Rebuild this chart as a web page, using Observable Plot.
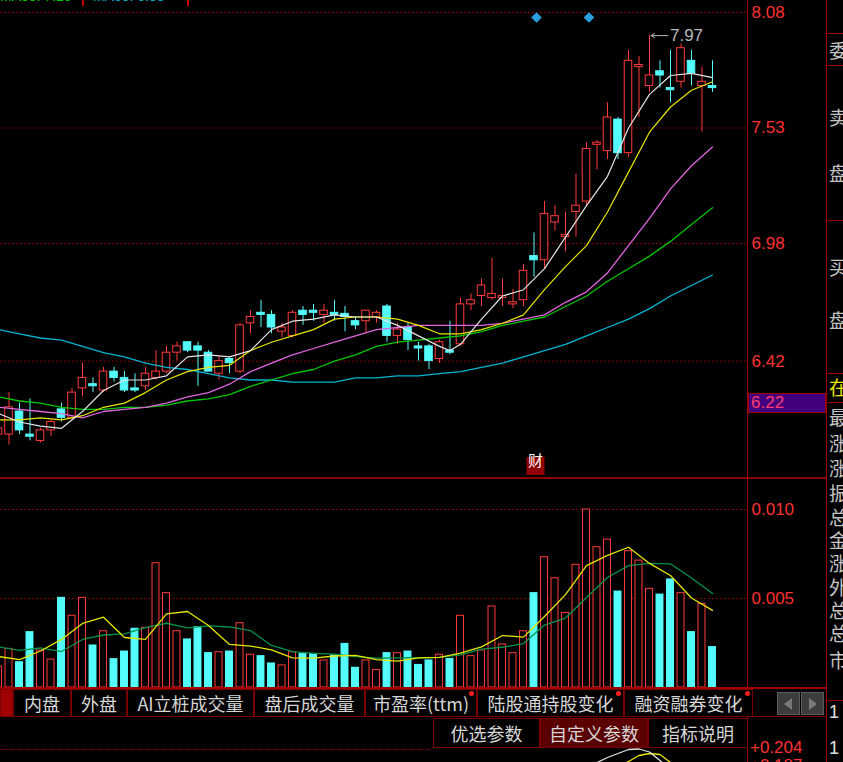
<!DOCTYPE html>
<html><head><meta charset="utf-8">
<script src="https://cdn.jsdelivr.net/npm/d3@7"></script>
<script src="https://cdn.jsdelivr.net/npm/@observablehq/plot@0.6"></script>
<style>
html,body{margin:0;padding:0;background:#000;}
#wrap{position:relative;width:843px;height:762px;background:#000;overflow:hidden;}
#wrap > *{position:absolute;}
.cjk{font-family:"Noto Sans CJK SC",sans-serif;}
.box{box-sizing:border-box;border:1px solid #7a0000;color:#d6d6d6;font-size:18px;display:flex;align-items:center;justify-content:center;white-space:nowrap;}
</style></head><body><div id="wrap"></div>
<script>
// ---------------- data ----------------
const priceTicks = [8.08, 7.53, 6.98, 6.42];
const volTicks = [0.010, 0.005];
const openP  = [6.07,6.07,6.18,6.07,6.04,6.09,6.19,6.15,6.29,6.31, 6.28,6.37,6.34,6.29,6.30,6.34,6.37,6.46,6.51,6.49, 6.46,6.36,6.43,6.37,6.60,6.65,6.64,6.56,6.54,6.66, 6.66,6.64,6.65,6.645,6.61,6.61,6.63,6.68,6.54,6.58, 6.49,6.49,6.43,6.47,6.50,6.69,6.73,6.72,6.72,6.69, 6.71,6.92,6.90,7.08,7.01,7.13,7.18,7.45,7.42,7.57, 7.41,7.82,7.73,7.80,7.72,7.75,7.85,7.73,7.73];
const closeP = [6.10,6.20,6.09,6.06,6.09,6.13,6.15,6.27,6.34,6.30, 6.37,6.34,6.28,6.28,6.36,6.37,6.46,6.49,6.47,6.47, 6.37,6.42,6.41,6.59,6.63,6.64,6.58,6.58,6.65,6.64, 6.65,6.66,6.64,6.63,6.59,6.66,6.65,6.54,6.57,6.52, 6.48,6.42,6.51,6.46,6.69,6.71,6.78,6.74,6.73,6.70, 6.85,6.90,7.12,7.11,7.02,7.16,7.43,7.46,7.58,7.41, 7.85,7.83,7.78,7.78,7.71,7.91,7.79,7.75,7.72];
const highP  = [6.11,6.27,6.22,6.24,6.10,6.14,6.22,6.29,6.41,6.34, 6.39,6.39,6.37,6.36,6.39,6.47,6.49,6.51,6.51,6.51, 6.47,6.44,6.44,6.60,6.66,6.71,6.66,6.60,6.66,6.68, 6.69,6.69,6.71,6.68,6.63,6.66,6.66,6.69,6.60,6.60, 6.51,6.50,6.52,6.61,6.72,6.74,6.81,6.91,6.81,6.76, 6.88,7.03,7.18,7.16,7.13,7.31,7.46,7.47,7.65,7.58, 7.90,7.87,7.97,7.85,7.90,7.93,7.90,7.82,7.85];
const lowP   = [6.04,6.02,6.07,6.04,6.03,6.06,6.13,6.14,6.25,6.27, 6.27,6.32,6.27,6.27,6.28,6.33,6.36,6.42,6.46,6.30, 6.37,6.33,6.36,6.36,6.55,6.58,6.55,6.53,6.53,6.59, 6.61,6.60,6.61,6.56,6.57,6.55,6.60,6.51,6.50,6.47, 6.42,6.38,6.41,6.45,6.49,6.66,6.68,6.71,6.68,6.67, 6.68,6.82,6.86,7.04,6.94,7.01,7.16,7.33,7.38,7.38, 7.39,7.58,7.70,7.72,7.65,7.72,7.73,7.51,7.70];
const volume = [0.00118,0.00217,0.00142,0.00311,0.00208,0.00157,0.00504,0.00403,0.00504,0.00236, 0.00316,0.00159,0.00202,0.00330,0.00335,0.00698,0.00530,0.00316,0.00270,0.00339, 0.00193,0.00198,0.00202,0.00361,0.00184,0.00176,0.00135,0.00124,0.00198,0.00189, 0.00189,0.00152,0.00180,0.00245,0.00111,0.00152,0.00099,0.00193,0.00193,0.00202, 0.00127,0.00152,0.00184,0.00161,0.00403,0.00176,0.00208,0.00455,0.00242,0.00193, 0.00316,0.00530,0.00732,0.00614,0.00419,0.00689,0.01000,0.00788,0.00831,0.00539, 0.00766,0.00713,0.00554,0.00522,0.00607,0.00530,0.00311,0.00470,0.00227];

const maIdx  = [0,2,4,6,8,10,12,14,16,18,20,22,24,26,28,30,32,34,36,38,40,42,44,46,48,50,52,54,56,58,60,62,64,66,68];
const ma5Idx = [0,2,4,6,8,10,12,14,16,18,20,22,24,26,28,30,32,34,36,38,40,42,43,44,46,48,50,52,54,56,58,60,62,64,66,68];
const ma5  = [6.17,6.13,6.11,6.10,6.18,6.28,6.33,6.33,6.35,6.44, 6.45,6.44,6.47,6.57,6.61,6.62,6.64,6.63,6.63,6.59, 6.54,6.49,6.47,6.50,6.62,6.73,6.76,6.86,7.01,7.16, 7.30,7.53,7.69,7.78,7.79,7.77];
const ma10 = [6.14,6.14,6.15,6.14,6.16,6.20,6.22,6.27,6.33,6.37, 6.39,6.40,6.47,6.51,6.54,6.57,6.62,6.63,6.63,6.62, 6.59,6.55,6.55,6.57,6.60,6.64,6.76,6.87,6.97,7.13, 7.32,7.51,7.63,7.71,7.75];
const ma20 = [6.20,6.19,6.18,6.17,6.15,6.18,6.19,6.20,6.22,6.25, 6.27,6.31,6.37,6.41,6.45,6.48,6.51,6.54,6.57,6.58, 6.59,6.59,6.59,6.59,6.60,6.62,6.64,6.70,6.75,6.84, 6.97,7.10,7.24,7.35,7.44];
const ma30 = [6.25,6.23,6.22,6.20,6.19,6.19,6.20,6.20,6.21,6.23, 6.24,6.26,6.30,6.33,6.36,6.38,6.42,6.45,6.49,6.51, 6.52,6.53,6.54,6.56,6.59,6.61,6.63,6.68,6.73,6.80, 6.86,6.92,6.99,7.07,7.15];
const ma60 = [6.57,6.55,6.53,6.52,6.49,6.46,6.44,6.41,6.39,6.38, 6.36,6.34,6.33,6.33,6.32,6.32,6.32,6.34,6.34,6.35, 6.35,6.36,6.37,6.39,6.41,6.44,6.47,6.50,6.54,6.58, 6.62,6.67,6.73,6.78,6.83];
const volMa5  = [0.00174,0.00157,0.00205,0.00270,0.00360,0.00395,0.00281,0.00270,0.00414,0.00427, 0.00348,0.00242,0.00233,0.00211,0.00166,0.00165,0.00177,0.00180,0.00157,0.00148, 0.00166,0.00169,0.00193,0.00228,0.00292,0.00283,0.00399,0.00522,0.00685,0.00742, 0.00788,0.00697,0.00629,0.00503,0.00433];
const volMa10 = [0.00228,0.00208,0.00222,0.00202,0.00270,0.00295,0.00301,0.00337,0.00361,0.00335, 0.00346,0.00340,0.00320,0.00236,0.00202,0.00192,0.00188,0.00174,0.00165,0.00166, 0.00167,0.00169,0.00183,0.00216,0.00226,0.00247,0.00351,0.00390,0.00506,0.00618, 0.00685,0.00697,0.00695,0.00615,0.00528];
const signalIdx = [51, 56];
const financeIdx = [51];
const oscIdx1 = [56,57,58,59,60,61,62,63,64];
const osc1    = [0.152,0.178,0.188,0.196,0.204,0.205,0.199,0.182,0.162];
const oscIdx2 = [58,59,60,61,62,63,64,65];
const osc2    = [0.158,0.170,0.180,0.192,0.196,0.194,0.178,0.166];
const oscTicks = [0.204, 0.187];
const legendLabels = ["MA30: 7.15", "MA60: 6.83"];
const tabLabels = ["", "内盘", "外盘", "AI立桩成交量", "盘后成交量", "市盈率(ttm)", "陆股通持股变化", "融资融券变化"];
const paramLabels = ["优选参数", "自定义参数", "指标说明"];
const sideLabels = ["委","卖","盘","买","盘","在","最","涨","涨","振","总","金","涨","外","总","总","市","1","1"];
const currentPrice = 6.22;

// ---------------- styling ----------------
const RED = "#ff3b3b", CYAN = "#55fcfc", GRID = "#a00000", AXRED = "#ff3030", FRAME = "#a00000";
const xDomain = [2 / 10.5, 749 / 10.5];
const wrap = document.getElementById("wrap");
function el(style, text, cls) {
  const e = document.createElement("div");
  if (cls) e.className = cls;
  Object.assign(e.style, {position: "absolute"}, style);
  if (text != null) e.textContent = text;
  wrap.appendChild(e);
  return e;
}
const svgStyle = {background: "transparent", fontFamily: "'Liberation Sans', Arial, sans-serif", overflow: "hidden"};

const candles = openP.map((o, i) => ({i, open: o, close: closeP[i], high: highP[i], low: lowP[i], up: closeP[i] >= o}));
const series = (idx, vals) => idx.map((i, k) => ({i, v: vals[k]}));
const hi = candles.reduce((a, b) => (b.high > a.high ? b : a));

// ---------------- price panel ----------------
const main = Plot.plot({
  width: 843, height: 477, marginLeft: 0, marginRight: 96, marginTop: 0, marginBottom: 0,
  style: svgStyle,
  color: {type: "identity"},
  x: {domain: xDomain, axis: null},
  y: {domain: [8.08 - 465 / 210, 8.08 + 12 / 210], axis: null},
  marks: [
    Plot.ruleY(priceTicks, {y: d => d, stroke: GRID, strokeDasharray: "1.5,2.5"}),
    Plot.ruleX(candles, {x: "i", y1: "low", y2: "high", stroke: d => d.up ? RED : CYAN}),
    Plot.rect(candles, {x1: d => d.i - 0.36, x2: d => d.i + 0.36, y1: "open", y2: "close",
      fill: d => d.up ? "#000000" : CYAN, stroke: d => d.up ? RED : CYAN}),
    Plot.line(series(maIdx, ma60), {x: "i", y: "v", stroke: "#00b4d2", strokeWidth: 1.3}),
    Plot.line(series(maIdx, ma30), {x: "i", y: "v", stroke: "#00c800", strokeWidth: 1.3}),
    Plot.line(series(maIdx, ma20), {x: "i", y: "v", stroke: "#e066e0", strokeWidth: 1.3}),
    Plot.line(series(maIdx, ma10), {x: "i", y: "v", stroke: "#e6e600", strokeWidth: 1.2}),
    Plot.line(series(ma5Idx, ma5), {x: "i", y: "v", stroke: "#e4e4e4", strokeWidth: 1.2}),
    Plot.arrow([hi], {x1: d => d.i + 1.75, x2: d => d.i + 0.15, y1: "high", y2: "high", stroke: "#b4b4b4", strokeWidth: 1, headLength: 6}),
    Plot.text([hi], {x: d => d.i + 1.95, y: "high", text: d => d.high.toFixed(2), textAnchor: "start", fill: "#b8b8b8", fontSize: 17}),
    Plot.dot(signalIdx, {x: d => d, frameAnchor: "top", dy: 17, dx: 2.5, symbol: "diamond2", r: 4.8, fill: "#2a9fe0"}),
    Plot.dot(financeIdx, {x: d => d, frameAnchor: "bottom", dy: -11.5, dx: 1.5, symbol: "square", r: 10.2, fill: "#900000"}),
    Plot.text(financeIdx, {x: d => d, frameAnchor: "bottom", dy: -11.5, dx: 1.5, text: () => "财", fill: "#ffffff", fontSize: 15, fontFamily: "Noto Sans CJK SC"}),
    Plot.text(priceTicks, {y: d => d, text: d => d.toFixed(2), frameAnchor: "right", textAnchor: "start", dx: 4, fill: AXRED, fontSize: 17})
  ]
});
Object.assign(main.style, {left: "0px", top: "0px"});
wrap.appendChild(main);

// ---------------- volume panel ----------------
const vol = Plot.plot({
  width: 843, height: 210, marginLeft: 0, marginRight: 96, marginTop: 0, marginBottom: 0,
  style: svgStyle,
  color: {type: "identity"},
  x: {domain: xDomain, axis: null},
  y: {domain: [-1 / 17800, 209 / 17800], axis: null},
  marks: [
    Plot.ruleY(volTicks, {y: d => d, stroke: GRID, strokeDasharray: "1.5,2.5"}),
    Plot.rect(candles, {x1: d => d.i - 0.33, x2: d => d.i + 0.33, y1: () => 0, y2: d => volume[d.i],
      fill: d => d.up ? "#000000" : CYAN, stroke: d => d.up ? RED : CYAN}),
    Plot.line(series(maIdx, volMa10), {x: "i", y: "v", stroke: "#00924a", strokeWidth: 1.3}),
    Plot.line(series(maIdx, volMa5), {x: "i", y: "v", stroke: "#e6e600", strokeWidth: 1.3}),
    Plot.text(volTicks, {y: d => d, text: d => d.toFixed(3), frameAnchor: "right", textAnchor: "start", dx: 4, fill: AXRED, fontSize: 17})
  ]
});
Object.assign(vol.style, {left: "0px", top: "478px"});
wrap.appendChild(vol);

// ---------------- oscillator fragment at bottom ----------------
const osc = Plot.plot({
  width: 843, height: 14, marginLeft: 0, marginRight: 96, marginTop: 0, marginBottom: 0,
  style: svgStyle,
  x: {domain: xDomain, axis: null},
  y: {domain: [0.206 - 14 / 500, 0.206], axis: null},
  marks: [
    Plot.line(series(oscIdx2, osc2), {x: "i", y: "v", stroke: "#e6e600", strokeWidth: 1.3, clip: true}),
    Plot.line(series(oscIdx1, osc1), {x: "i", y: "v", stroke: "#e4e4e4", strokeWidth: 1.3, clip: true})
  ]
});
Object.assign(osc.style, {left: "0px", top: "748px"});
wrap.appendChild(osc);
el({left: "0px", top: "749px", width: "430px", height: "0px", borderTop: "1px dotted " + GRID});
oscTicks.forEach((t, k) => el({left: "750px", top: (739 + k * 18) + "px", font: "17px 'Liberation Sans', Arial, sans-serif", color: AXRED, lineHeight: "18px"}, "+" + t.toFixed(3)));

// ---------------- frame lines ----------------
el({left: "0px", top: "477px", width: "827px", height: "2px", background: "#8b0000"});
el({left: "747px", top: "0px", width: "1px", height: "762px", background: FRAME});
el({left: "826px", top: "0px", width: "1px", height: "762px", background: FRAME});

// current price box
const yCur = main.scale("y").apply(currentPrice);
el({left: "748px", top: (yCur - 10) + "px", width: "78px", height: "20px", boxSizing: "border-box",
    background: "#42007e", border: "1px solid #a00000", color: "#ff3a6e",
    font: "17px 'Liberation Sans', Arial, sans-serif", lineHeight: "18px", paddingLeft: "2px"}, currentPrice.toFixed(2));

// top legend (clipped by window)
el({left: "0px", top: "-12px", color: "#00c800", font: "14px 'Liberation Sans', Arial, sans-serif"}, legendLabels[0]);
el({left: "82px", top: "0px", width: "2px", height: "6px", background: "#c00000"});
el({left: "93px", top: "-12px", color: "#00b4d2", font: "14px 'Liberation Sans', Arial, sans-serif"}, legendLabels[1]);
el({left: "187px", top: "0px", width: "2px", height: "6px", background: "#c00000"});

// ---------------- tab rows ----------------
el({left: "0px", top: "687px", width: "827px", height: "2px", background: "#a00000"});
const tabEdges = [0, 13, 71, 127, 254, 365, 477, 624, 753];
tabLabels.forEach((t, k) => {
  const x0 = tabEdges[k], x1 = tabEdges[k + 1];
  el({left: x0 + "px", top: "689px", width: (x1 - x0) + "px", height: "28px",
      background: k === 0 ? "#a00000" : "#000"}, t, "box cjk");
  if (k >= 5) el({left: (x1 - 8) + "px", top: "691px", width: "5px", height: "5px", borderRadius: "50%", background: "#ff1e1e"});
});
el({left: "0px", top: "716px", width: "827px", height: "1px", background: "#7a0000"});
el({left: "777px", top: "692px", width: "23px", height: "23px", boxSizing: "border-box", background: "#3c3c3c", border: "1px solid #5c5c5c"});
el({left: "801px", top: "692px", width: "23px", height: "23px", boxSizing: "border-box", background: "#3c3c3c", border: "1px solid #5c5c5c"});
el({left: "784px", top: "698px", width: "0px", height: "0px", borderTop: "6px solid transparent", borderBottom: "6px solid transparent", borderRight: "8px solid #7a7a7a"});
el({left: "809px", top: "698px", width: "0px", height: "0px", borderTop: "6px solid transparent", borderBottom: "6px solid transparent", borderLeft: "8px solid #7a7a7a"});

const paramEdges = [433, 540, 648, 748];
paramLabels.forEach((t, k) => {
  el({left: paramEdges[k] + "px", top: "718px", width: (paramEdges[k + 1] - paramEdges[k]) + "px", height: "30px",
      background: k === 1 ? "#5a0000" : "#000"}, t, "box cjk");
});

// ---------------- right side column (clipped) ----------------
const sideY = [50,117,173,267,320,387,417,443,468,493,517,540,563,587,610,633,660,712,748];
sideLabels.forEach((t, k) => {
  const isNum = /\d/.test(t);
  el({left: "829px", top: (sideY[k] - 9) + "px", font: isNum ? "18px 'Liberation Sans', Arial, sans-serif" : "19px 'Noto Sans CJK SC', sans-serif",
      lineHeight: "18px", color: t === "在" ? "#e6e600" : (isNum ? "#e0e0e0" : "#c4c4c4"), whiteSpace: "nowrap"}, t);
});
[33, 65, 220, 373, 402, 700].forEach(y => el({left: "827px", top: y + "px", width: "16px", height: "1px", background: FRAME}));
</script>
</body></html>
